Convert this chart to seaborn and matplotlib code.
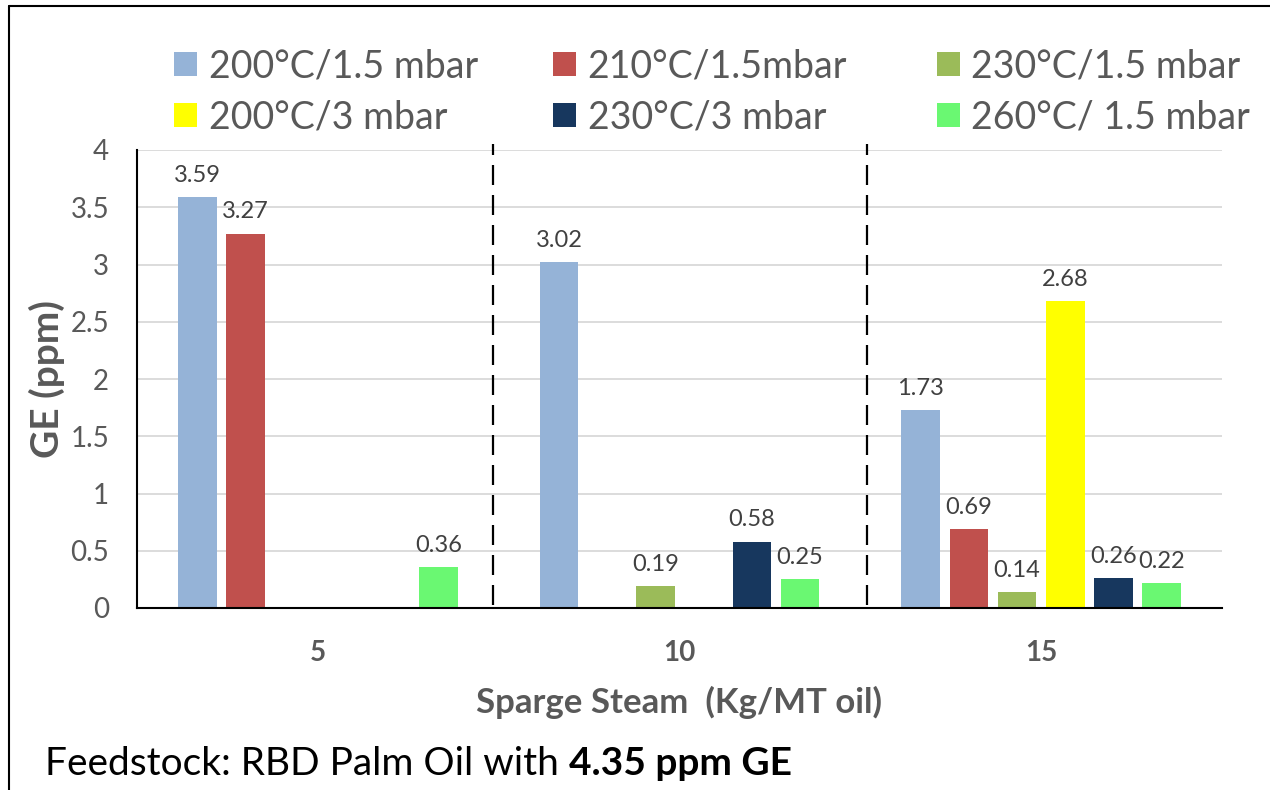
"""GE vs sparge steam grouped bar chart"""

import numpy as np
import pandas as pd
import matplotlib
matplotlib.use("Agg")
import matplotlib.pyplot as plt
from matplotlib.lines import Line2D
from matplotlib.patches import Patch
import seaborn as sns

sns.set_style("white")
plt.rcParams["font.family"] = ["Lato", "DejaVu Sans"]

# data
steam = ["5", "10", "15"]
conditions = ["200°C/1.5 mbar", "210°C/1.5mbar", "230°C/1.5 mbar",
              "200°C/3 mbar", "230°C/3 mbar", "260°C/ 1.5 mbar"]
colors = ["#95B3D7", "#C0504D", "#9BBB59", "#FFFF00", "#17375E", "#6AF872"]
ge_200_15 = [3.59, 3.02, 1.73]
ge_210_15 = [3.27, np.nan, 0.69]
ge_230_15 = [np.nan, 0.19, 0.14]
ge_200_3 = [np.nan, np.nan, 2.68]
ge_230_3 = [np.nan, 0.58, 0.26]
ge_260_15 = [0.36, 0.25, 0.22]
y_ticks = [0, 0.5, 1, 1.5, 2, 2.5, 3, 3.5, 4]

series = [ge_200_15, ge_210_15, ge_230_15, ge_200_3, ge_230_3, ge_260_15]
rows = []
for cond, vals in zip(conditions, series):
    for s, v in zip(steam, vals):
        rows.append({"steam": s, "condition": cond, "ge": v})
df = pd.DataFrame(rows).dropna()

GRAY = "#595959"

fig = plt.figure(figsize=(12.7, 7.9), dpi=100)
ax = fig.add_axes([137 / 1270, 1 - 608 / 790, (1222 - 137) / 1270, (608 - 150) / 790])

sns.barplot(data=df, x="steam", y="ge", hue="condition", order=steam,
            hue_order=conditions, palette=colors, saturation=1, width=0.8,
            gap=0.2, errorbar=None, linewidth=0, legend=False, ax=ax)

for cont in ax.containers:
    ax.bar_label(cont, fmt="%.2f", padding=8, fontsize=17, color="#404040")

ax.set_xlim(-0.5, 2.5)
ax.set_ylim(0, 4)
ax.set_yticks(y_ticks)
ax.set_yticklabels([f"{v:g}" for v in y_ticks])
ax.yaxis.grid(True, color="#D9D9D9", linewidth=1.3)
ax.set_axisbelow(True)
ax.tick_params(axis="y", length=0, pad=20, labelsize=20, labelcolor=GRAY)
ax.tick_params(axis="x", length=0, pad=23, labelsize=20, labelcolor=GRAY)
for t in ax.get_xticklabels():
    t.set_fontweight("bold")

for side in ["top", "right"]:
    ax.spines[side].set_visible(False)
for side in ["left", "bottom"]:
    ax.spines[side].set_color("black")
    ax.spines[side].set_linewidth(1.5)

# hand-drawn group separators (slightly off the exact boundaries, as in the original)
ax.vlines([0.5 - 0.017, 1.5 + 0.018], 0.03, 4.05, colors="black", linewidth=1.6,
          linestyles=(0, (9, 4.5)), clip_on=False)

ax.set_xlabel("Sparge Steam  (Kg/MT oil)", fontsize=25, fontweight="bold",
              color=GRAY, labelpad=14)
ax.set_ylabel("GE (ppm)", fontsize=28, fontweight="bold", color=GRAY,
              labelpad=4)

# legend: 3 columns, two entries each (row-wise order like Excel)
handles = [Patch(facecolor=c, edgecolor="none") for c in colors]
col_x = [174, 553, 937]
for j, x in enumerate(col_x):
    idx = [j, j + 3]
    leg = fig.legend([handles[i] for i in idx], [conditions[i] for i in idx],
                     loc="center left", bbox_to_anchor=(x / 1270, 1 - 92 / 790),
                     frameon=False, fontsize=27, labelcolor=GRAY,
                     handlelength=0.62, handleheight=0.62, handletextpad=0.3,
                     labelspacing=0.4, borderpad=0, borderaxespad=0)

# figure frame (left and top only)
fig.add_artist(Line2D([9 / 1270, 9 / 1270], [0, 1 - 6 / 790], color="black", linewidth=1.5))
fig.add_artist(Line2D([9 / 1270, 1], [1 - 6 / 790, 1 - 6 / 790], color="black", linewidth=1.5))

# footnote with bold part
t1 = fig.text(45 / 1270, 1 - 775 / 790, "Feedstock: RBD Palm Oil with ",
              fontsize=28, color="black", va="baseline")
fig.canvas.draw()
bb = t1.get_window_extent()
fig.text(bb.x1 / 1270, 1 - 775 / 790, "4.35 ppm GE", fontsize=28,
         fontweight="bold", color="black", va="baseline")

fig.savefig("out.png", dpi=100)
plt.close()
